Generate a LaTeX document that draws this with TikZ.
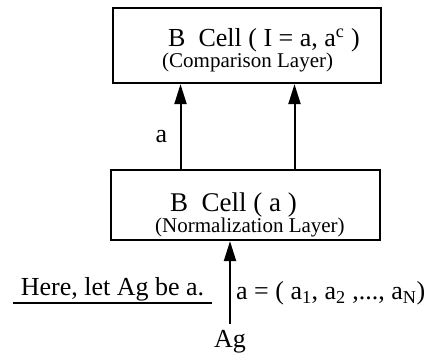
\documentclass[tikz,border=0pt]{standalone}
\usepackage{fontspec}
\setmainfont{Liberation Serif}
\usetikzlibrary{arrows.meta}
\begin{document}
\begin{tikzpicture}[x=1pt,y=1pt,>={Triangle[length=20pt,width=12pt]},
  layer/.style={draw,line width=2.2pt,inner sep=0pt},
  big/.style={font=\fontsize{26}{30}\selectfont,inner sep=0pt},
  small/.style={font=\fontsize{21}{25}\selectfont,inner sep=0pt}]
  \useasboundingbox (0,0) rectangle (429,354);
  % the two layers
  \node[layer,minimum width=268pt,minimum height=75pt] (upper) at (247,308.5) {};
  \node[layer,minimum width=269pt,minimum height=70pt] (lower) at (245.5,149) {};
  \node[big,anchor=base west] (uppername) at (168,307) {B\ \ Cell ( I = a, a\textsuperscript{c} )};
  \node[small,anchor=base west] (uppersub) at (162,286) {(Comparison Layer)};
  \node[big,font=\fontsize{27}{30}\selectfont,anchor=base west] (lowername) at (170,142) {B\ \ Cell ( a )};
  \node[small,anchor=base west] (lowersub) at (155,121) {(Normalization Layer)};
  % input
  \node[big,anchor=base] (ag) at (230,7) {Ag};
  \node[big,anchor=base west] (vec) at (236,54) {a = ( a\textsubscript{1}, a\textsubscript{2} ,..., a\textsubscript{N})};
  \node[big,inner xsep=8pt,anchor=base] (note) at (112.5,59) {Here, let Ag be a.};
  \draw[line width=1.5pt] ([yshift=-8pt]note.base west) -- ([yshift=-8pt]note.base east);
  \node[big,anchor=base] (alabel) at (161.5,211) {a};
  % connections
  \draw[->,line width=2pt] ([yshift=6pt]ag.north) -- (ag.north |- lower.south);
  \draw[->,line width=2pt] ([xshift=-65pt]lower.north) -- ([xshift=-65pt]lower.north |- upper.south);
  \draw[->,line width=2pt] ([xshift=49pt]lower.north) -- ([xshift=49pt]lower.north |- upper.south);
\end{tikzpicture}
\end{document}
